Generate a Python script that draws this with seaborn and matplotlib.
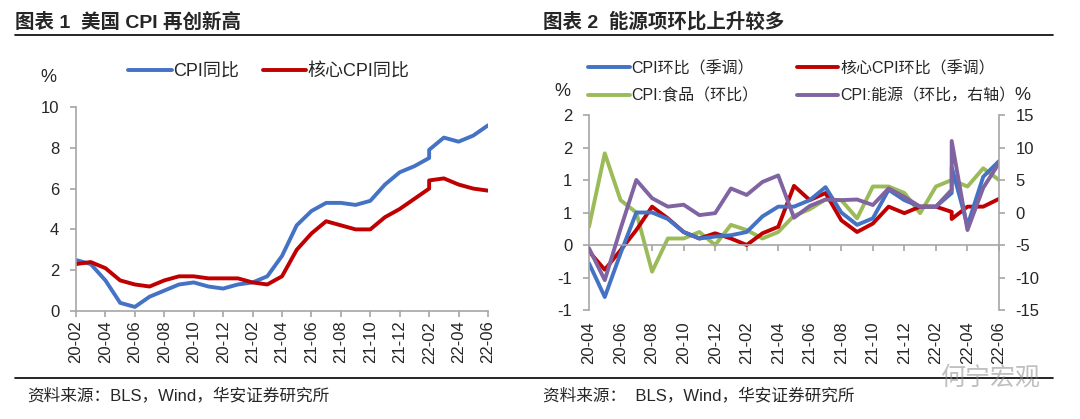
import matplotlib
matplotlib.use("Agg")
import matplotlib.pyplot as plt
import seaborn as sns
import pandas as pd

# ---------- data: 图表1 ----------
months_l = ["20-02", "20-03", "20-04", "20-05", "20-06", "20-07", "20-08", "20-09", "20-10",
            "20-11", "20-12", "21-01", "21-02", "21-03", "21-04", "21-05", "21-06", "21-07",
            "21-08", "21-09", "21-10", "21-11", "21-12", "22-01", "22-02", "22-02", "22-03",
            "22-04", "22-05", "22-06"]
cpi_yoy = [2.5, 2.3, 1.5, 0.4, 0.2, 0.7, 1.0, 1.3, 1.4, 1.2, 1.1, 1.3, 1.4, 1.7, 2.7, 4.2,
           4.9, 5.3, 5.3, 5.2, 5.4, 6.2, 6.8, 7.1, 7.5, 7.9, 8.5, 8.3, 8.6, 9.1]
core_yoy = [2.3, 2.4, 2.1, 1.5, 1.3, 1.2, 1.5, 1.7, 1.7, 1.6, 1.6, 1.6, 1.4, 1.3, 1.7, 3.0,
            3.8, 4.4, 4.2, 4.0, 4.0, 4.6, 5.0, 5.5, 6.0, 6.4, 6.5, 6.2, 6.0, 5.9]
ticks_l = ["20-02", "20-04", "20-06", "20-08", "20-10", "20-12", "21-02", "21-04", "21-06",
           "21-08", "21-10", "21-12", "22-02", "22-04", "22-06"]

# ---------- data: 图表2 ----------
months_r = ["20-04", "20-05", "20-06", "20-07", "20-08", "20-09", "20-10", "20-11", "20-12",
            "21-01", "21-02", "21-03", "21-04", "21-05", "21-06", "21-07", "21-08", "21-09",
            "21-10", "21-11", "21-12", "22-01", "22-02", "22-03", "22-03", "22-04", "22-05",
            "22-06"]
cpi_mom = [-0.28, -0.8, -0.13, 0.5, 0.5, 0.4, 0.2, 0.1, 0.13, 0.15, 0.2, 0.44, 0.59, 0.59,
           0.69, 0.89, 0.5, 0.31, 0.41, 0.85, 0.69, 0.59, 0.59, 0.8, 1.2, 0.3, 1.05, 1.29]
core_mom = [-0.1, -0.38, -0.08, 0.23, 0.59, 0.41, 0.2, 0.1, 0.18, 0.1, 0.0, 0.18, 0.28, 0.91,
            0.69, 0.8, 0.38, 0.2, 0.33, 0.59, 0.49, 0.59, 0.59, 0.51, 0.4, 0.59, 0.59, 0.71]
food_mom = [0.28, 1.41, 0.69, 0.5, -0.41, 0.1, 0.1, 0.2, 0.0, 0.31, 0.23, 0.1, 0.2, 0.45,
            0.55, 0.7, 0.69, 0.41, 0.9, 0.9, 0.8, 0.49, 0.9, 1.0, 1.0, 0.9, 1.18, 1.0]
energy_mom = [-5.5, -10.4, -2.5, 5.0, 2.2, 0.9, 1.2, -0.4, -0.1, 3.7, 2.7, 4.7, 5.7, -0.8,
              1.0, 2.0, 1.9, 2.0, 1.15, 3.7, 2.4, 0.9, 0.9, 3.5, 11.0, -2.7, 3.8, 7.6]
ticks_r = ["20-04", "20-06", "20-08", "20-10", "20-12", "21-02", "21-04", "21-06", "21-08",
           "21-10", "21-12", "22-02", "22-04", "22-06"]
yl_vals = [-1, -0.5, 0, 0.5, 1, 1.5, 2]
yl_text = ["-1", "-1", "0", "1", "1", "2", "2"]

BLUE, RED, GREEN, PURPLE = "#4472C4", "#C00000", "#9BBB59", "#8064A2"
GRAY = "#A6A6A6"


def midx(s, base):
    yy, mm = s.split("-")
    return (int(yy) * 12 + int(mm)) - base


base_l = midx(months_l[0], 0)
base_r = midx(months_r[0], 0)
df_l = pd.DataFrame({"x": [midx(m, base_l) for m in months_l], "cpi": cpi_yoy, "core": core_yoy})
df_r = pd.DataFrame({"x": [midx(m, base_r) for m in months_r], "cpi": cpi_mom, "core": core_mom,
                     "food": food_mom, "energy": energy_mom})

sns.set_theme(style="white")
plt.rcParams["font.family"] = ["Liberation Sans", "Noto Sans CJK SC"]
plt.rcParams["axes.unicode_minus"] = False

fig = plt.figure(figsize=(10.8, 4.19), dpi=100)
W, H = 1080, 419


def box(x0, y0, x1, y1):
    return [x0 / W, 1 - y1 / H, (x1 - x0) / W, (y1 - y0) / H]


LW = 2.8

# ---------- left chart ----------
axL = fig.add_axes(box(76, 107, 488, 311))
sns.lineplot(data=df_l, x="x", y="cpi", ax=axL, color=BLUE, lw=LW, estimator=None, sort=False,
             legend=False)
hL1 = axL.lines[-1]
sns.lineplot(data=df_l, x="x", y="core", ax=axL, color=RED, lw=LW, estimator=None, sort=False,
             legend=False)
hL2 = axL.lines[-1]
axL.set_xlim(0, 28)
axL.set_ylim(0, 10)
axL.set_yticks(range(0, 11, 2))
axL.set_xticks([midx(t, base_l) for t in ticks_l])
axL.set_xticklabels(ticks_l, rotation=90)
axL.set_xlabel("")
axL.set_ylabel("")
for s in ["top", "right"]:
    axL.spines[s].set_visible(False)
for s in ["left", "bottom"]:
    axL.spines[s].set_color(GRAY)
    axL.spines[s].set_linewidth(1.2)
axL.tick_params(axis="both", direction="out", length=4, width=1.2, color=GRAY,
                labelsize=12, pad=3, left=True, bottom=True)
axL.tick_params(axis="y", pad=8)
fig.legend([hL1, hL2], ["CPI同比", "核心CPI同比"], loc="center left",
           bbox_to_anchor=(112 / W, 1 - 72 / H), ncol=2, frameon=False, fontsize=13,
           handlelength=2.4, handletextpad=0.1, columnspacing=1.3)
fig.text(48 / W, 1 - 77 / H, "%", fontsize=13, ha="center", va="center")

# ---------- right chart ----------
axR = fig.add_axes(box(589, 115, 999, 310))
ax2 = axR.twinx()
sns.lineplot(data=df_r, x="x", y="food", ax=axR, color=GREEN, lw=LW, estimator=None, sort=False,
             legend=False)
hR3 = axR.lines[-1]
sns.lineplot(data=df_r, x="x", y="core", ax=axR, color=RED, lw=LW, estimator=None, sort=False,
             legend=False)
hR2 = axR.lines[-1]
sns.lineplot(data=df_r, x="x", y="cpi", ax=axR, color=BLUE, lw=LW, estimator=None, sort=False,
             legend=False)
hR1 = axR.lines[-1]
sns.lineplot(data=df_r, x="x", y="energy", ax=ax2, color=PURPLE, lw=LW, estimator=None,
             sort=False, legend=False)
hR4 = ax2.lines[-1]
ax2.set_zorder(axR.get_zorder() + 1)

axR.set_xlim(0, 26)
axR.set_ylim(-1, 2)
ax2.set_ylim(-15, 15)
axR.set_yticks(yl_vals)
axR.set_yticklabels(yl_text)
ax2.set_yticks(range(-15, 16, 5))
axR.set_xlabel("")
axR.set_ylabel("")
ax2.set_ylabel("")
ax2.set_xlabel("")

tick_pos_r = [midx(t, base_r) for t in ticks_r]
axR.set_xticks(tick_pos_r)
axR.spines["bottom"].set_position(("data", 0))
axR.spines["bottom"].set_color(GRAY)
axR.spines["bottom"].set_linewidth(1.2)
axR.tick_params(axis="x", direction="out", length=4, width=1.2, color=GRAY, labelbottom=False,
                bottom=True)
sec = axR.secondary_xaxis("bottom")
sec.set_xticks(tick_pos_r)
sec.set_xticklabels(ticks_r, rotation=90)
sec.tick_params(length=0, labelsize=12, pad=8)
for s in sec.spines.values():
    s.set_visible(False)

for s in ["top", "right"]:
    axR.spines[s].set_visible(False)
axR.spines["left"].set_color(GRAY)
axR.spines["left"].set_linewidth(1.2)
for s in ["top", "left", "bottom"]:
    ax2.spines[s].set_visible(False)
ax2.spines["right"].set_color(GRAY)
ax2.spines["right"].set_linewidth(1.2)
axR.tick_params(axis="y", direction="out", length=4, width=1.2, color=GRAY, labelsize=12,
                pad=8, left=True)
ax2.tick_params(axis="y", direction="out", length=4, width=1.2, color=GRAY, labelsize=12,
                pad=8, right=True)

fig.legend([hR1, hR3, hR2, hR4], ["CPI环比（季调）", "CPI:食品（环比）", "核心CPI环比（季调）",
                                  "CPI:能源（环比，右轴）"],
           loc="center left", bbox_to_anchor=(574 / W, 1 - 82 / H), ncol=2, frameon=False,
           fontsize=11.5, handlelength=2.6, handletextpad=0.1, columnspacing=2.4,
           labelspacing=0.75)
fig.text(562 / W, 1 - 92 / H, "%", fontsize=13, ha="center", va="center")
fig.text(1022 / W, 1 - 95 / H, "%", fontsize=13, ha="center", va="center")

# ---------- titles, rules, sources ----------
fig.text(15 / W, 1 - 22 / H, "图表 1  美国 CPI 再创新高", fontsize=14, fontweight="bold",
         va="center", ha="left")
fig.text(543 / W, 1 - 22 / H, "图表 2  能源项环比上升较多", fontsize=14, fontweight="bold",
         va="center", ha="left")
fig.add_artist(plt.Line2D([15 / W, 1053 / W], [1 - 35 / H, 1 - 35 / H], color="black", lw=1.2))
fig.add_artist(plt.Line2D([15 / W, 1053 / W], [1 - 378 / H, 1 - 378 / H], color="black", lw=1.2))
fig.text(27 / W, 1 - 395 / H, "资料来源：BLS，Wind，华安证券研究所", fontsize=12, va="center",
         ha="left")
fig.text(543 / W, 1 - 395 / H, "资料来源：  BLS，Wind，华安证券研究所", fontsize=12,
         va="center", ha="left")
fig.text(990 / W, 1 - 378 / H, "何宁宏观", fontsize=18, color="#8C8C8C", alpha=0.55,
         va="center", ha="center")

fig.savefig("out.png", dpi=100)
